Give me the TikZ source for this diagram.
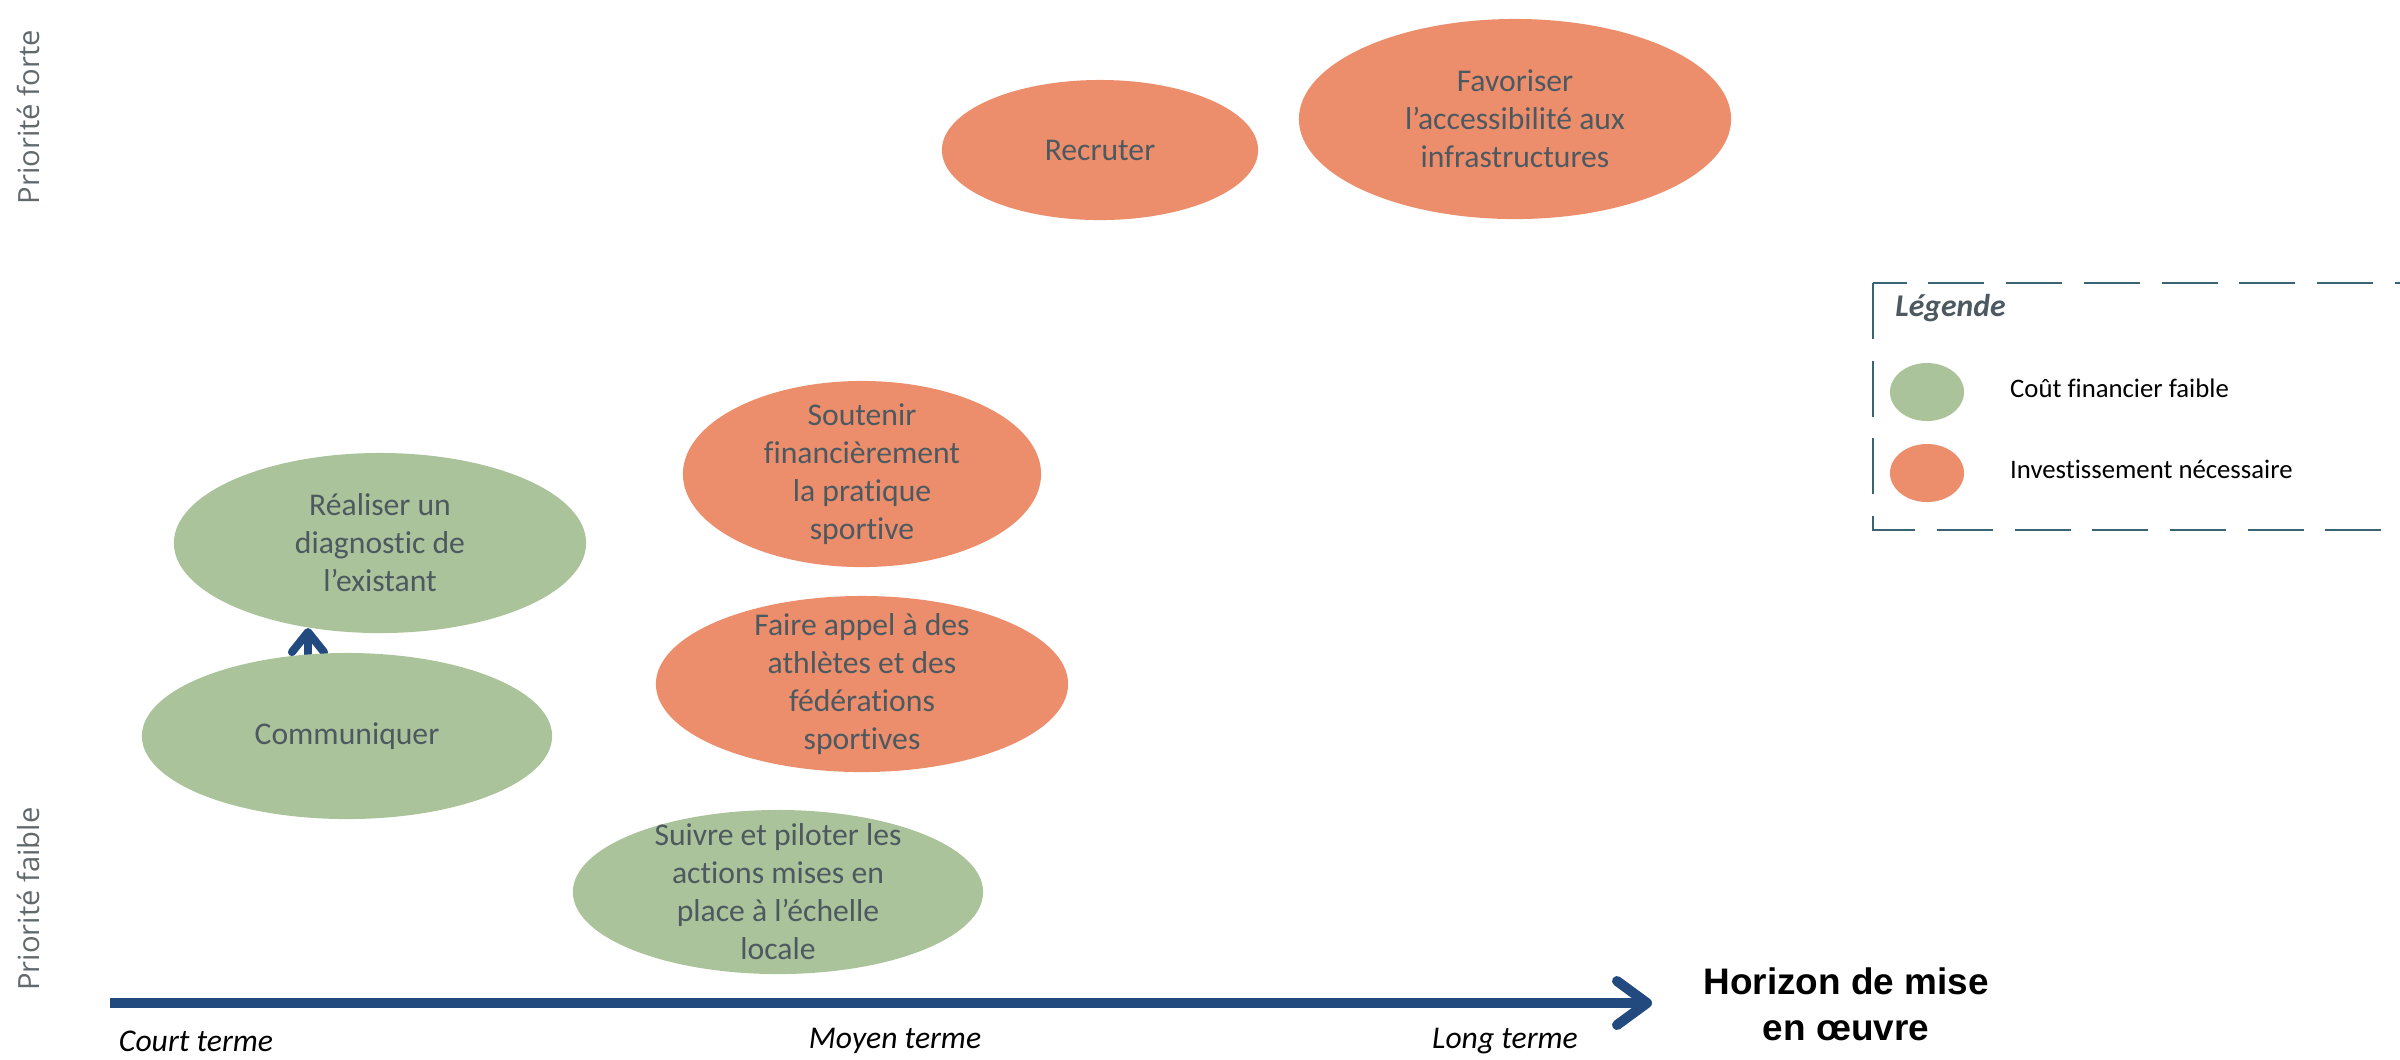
\documentclass[tikz,border=0pt]{standalone}
\usepackage{fontspec}
\setmainfont{Carlito}[Ligatures=NoCommon]
\newfontfamily\axefont{Open Sans}
\newfontfamily\titrefont{Liberation Sans}
\usetikzlibrary{arrows.meta, positioning, shapes.geometric}
\definecolor{vertf}{HTML}{ABC39A}
\definecolor{oran}{HTML}{EC8E6B}
\definecolor{encre}{HTML}{4D5960}
\definecolor{fleche}{HTML}{224A7E}
\definecolor{cadrec}{HTML}{3A6474}
\definecolor{gris}{HTML}{62696D}
\tikzset{
  el/.style={ellipse, inner sep=-2mm, align=center, text=encre, font=\fontsize{9}{10.8}\selectfont},
  ev/.style={el, fill=vertf},
  eo/.style={el, fill=oran},
  ax/.style={draw=fleche, line width=2.85pt, -{Straight Barb[length=3mm, width=4.4mm, round]}},
  axv/.style={draw=fleche, line width=2.3pt, -{Straight Barb[length=2mm, width=3.2mm, round]}},
  terme/.style={font=\fontsize{9}{11}\selectfont\itshape},
  prio/.style={rotate=90, text=gris, font=\axefont\fontsize{8.3}{10}\selectfont},
  leg/.style={ellipse, inner sep=0pt, minimum width=7.4mm, minimum height=5.8mm},
  legt/.style={font=\fontsize{7.6}{9}\selectfont, anchor=west},
  cadre/.style={draw=cadrec, line width=0.6pt, dash pattern=on 15.9pt off 6.2pt},
}
\begin{document}
\begin{tikzpicture}[x=0.01cm, y=-0.01cm]
\useasboundingbox (0,0) rectangle (2400,1059);

\coordinate (o) at (110,1003);
\coordinate (h) at (1652,1003);
\coordinate (pv) at (308,720);
\coordinate (sv) at (308,628);
\draw[ax] (o) -- (h);
\draw[axv] (pv) -- (sv);

\node[eo, minimum width=3.16cm, minimum height=1.4cm] (rec) at (1100,150) {Recruter};
\node[eo, minimum width=4.32cm, minimum height=2cm] (fav) at (1515,119) {Favoriser\\l’accessibilité aux\\infrastructures};
\node[eo, minimum width=3.58cm, minimum height=1.86cm] (sou) at (862,474) {Soutenir\\financièrement\\la pratique\\sportive};
\node[ev, minimum width=4.12cm, minimum height=1.8cm] (rea) at (380,543) {Réaliser un\\diagnostic de\\l’existant};
\node[eo, minimum width=4.12cm, minimum height=1.76cm] (fai) at (862,684) {Faire appel à des\\athlètes et des\\fédérations\\sportives};
\node[ev, minimum width=4.1cm, minimum height=1.66cm] (com) at (347,736) {Communiquer};
\node[ev, minimum width=4.1cm, minimum height=1.64cm] (sui) at (778,892) {Suivre et piloter les\\actions mises en\\place à l’échelle\\locale};

\draw[cadre] (1873,283) rectangle (2420,530);
\node[font=\bfseries\itshape\fontsize{9}{10}\selectfont, text=encre, anchor=west] (tleg) at (1883,308) {Légende};
\node[leg, fill=vertf] (lv) at (1927,392) {};
\node[leg, fill=oran] (lo) at (1927,473) {};
\node[legt, right=3.3mm of lv, yshift=1pt] (tv) {Coût financier faible};
\node[legt, right=3.3mm of lo, yshift=1pt] (to) {Investissement nécessaire};

\node[terme] (ct) at (196,1041) {Court terme};
\node[terme] (mt) at (895,1041) {Moyen terme};
\node[terme] (lt) at (1505,1041) {Long terme};
\node[font=\titrefont\bfseries\fontsize{10.5}{13}\selectfont, align=center] (hor) at (1846,1004) {Horizon de mise\\en œuvre};

\node[prio] (pf) at (28,117) {Priorité forte};
\node[prio] (pb) at (28,899) {Priorité faible};
\end{tikzpicture}
\end{document}
